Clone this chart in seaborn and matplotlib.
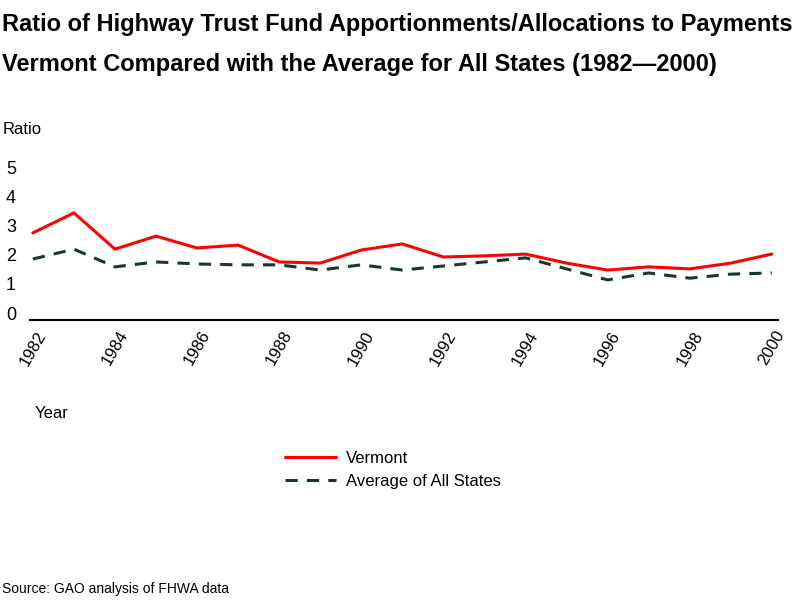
import pandas as pd
import numpy as np
import matplotlib.pyplot as plt
import seaborn as sns

sns.set_theme(style="white")
plt.rcParams['font.family'] = ['Liberation Sans', 'DejaVu Sans']
plt.rcParams['text.color'] = 'black'
plt.rcParams['xtick.color'] = 'black'
plt.rcParams['ytick.color'] = 'black'

# data
years = list(range(1982, 2001))
vermont = [2.76, 3.45, 2.20, 2.65, 2.24, 2.34, 1.76, 1.72, 2.17, 2.38,
           1.93, 1.97, 2.03, 1.72, 1.48, 1.59, 1.52, 1.72, 2.03]
average = [1.86, 2.20, 1.59, 1.76, 1.69, 1.66, 1.66, 1.48, 1.66, 1.48,
           1.62, 1.76, 1.90, 1.52, 1.14, 1.38, 1.20, 1.34, 1.38]
series_names = ['Vermont', 'Average of All States']
tick_years = list(range(1982, 2001, 2))
y_ticks = [0, 1, 2, 3, 4, 5]

df = pd.DataFrame({
    'Year': years * 2,
    'Ratio': vermont + average,
    'Series': [series_names[0]] * len(years) + [series_names[1]] * len(years),
})

fig = plt.figure(figsize=(8, 6), dpi=100)
ax = fig.add_axes([0.0375, 0.4667, 0.935, 0.268])

sns.lineplot(data=df, x='Year', y='Ratio', hue='Series', style='Series',
             palette={'Vermont': '#ff0000', 'Average of All States': '#173a28'},
             dashes={'Vermont': '', 'Average of All States': (4, 3)},
             linewidth=2.2, ax=ax, legend=False)

ax.set_xlim(1981.93, 2000.15)
ax.set_ylim(-0.24, 5.3)
ax.set_xticks(tick_years)
ax.set_xticklabels([str(y) for y in tick_years], rotation=60, fontsize=12,
                   ha='center', va='top')
ax.set_yticks(y_ticks)
ax.set_yticklabels([str(v) for v in y_ticks], fontsize=13)
ax.tick_params(axis='y', length=0, pad=10)
ax.tick_params(axis='x', length=0, pad=6)
ax.set_xlabel('')
ax.set_ylabel('')
for s in ['top', 'left', 'right']:
    ax.spines[s].set_visible(False)
ax.spines['bottom'].set_color('black')
ax.spines['bottom'].set_linewidth(1.5)

fig.text(0.003, 0.96, 'Ratio of Highway Trust Fund Apportionments/Allocations to Payments',
         fontsize=17, fontweight='bold', va='center', ha='left')
fig.text(0.003, 0.893, 'Vermont Compared with the Average for All States (1982\u20142000)',
         fontsize=17, fontweight='bold', va='center', ha='left')
fig.text(0.003, 0.785, 'Ratio', fontsize=12, va='center', ha='left')
fig.text(0.043, 0.31, 'Year', fontsize=12, va='center', ha='left')
fig.text(0.003, 0.018, 'Source: GAO analysis of FHWA data', fontsize=10,
         va='center', ha='left')

handles = [plt.Line2D([], [], color='#ff0000', lw=2.2),
           plt.Line2D([], [], color='#173a28', lw=2.2, dashes=(4, 3))]
fig.legend(handles, series_names, loc='upper left',
           bbox_to_anchor=(0.337, 0.273), frameon=False, fontsize=12,
           handlelength=3.1, handletextpad=0.6, labelspacing=0.45)

fig.savefig('out.png', dpi=100)
